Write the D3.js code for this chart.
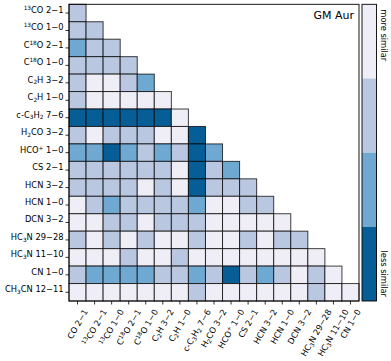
<!DOCTYPE html>
<html>
<head>
<meta charset="utf-8">
<script src="https://cdn.jsdelivr.net/npm/d3@7"></script>
<style>
  body { margin: 0; background: #fff; }
  text { font-family: "DejaVu Sans", sans-serif; fill: #000; }
</style>
</head>
<body>
<div id="chart"></div>
<script>
// labels use ^{..} for superscript and _{..} for subscript
var rowLabels = ["^{13}CO 2−1", "^{13}CO 1−0", "C^{18}O 2−1", "C^{18}O 1−0", "C_{2}H 3−2", "C_{2}H 1−0",
    "c-C_{3}H_{2} 7−6", "H_{2}CO 3−2", "HCO^{+} 1−0", "CS 2−1", "HCN 3−2", "HCN 1−0", "DCN 3−2",
    "HC_{3}N 29−28", "HC_{3}N 11−10", "CN 1−0", "CH_{3}CN 12−11"];
var colLabels = ["CO 2−1", "^{13}CO 2−1", "^{13}CO 1−0", "C^{18}O 2−1", "C^{18}O 1−0", "C_{2}H 3−2",
    "C_{2}H 1−0", "c-C_{3}H_{2} 7−6", "H_{2}CO 3−2", "HCO^{+} 1−0", "CS 2−1", "HCN 3−2", "HCN 1−0",
    "DCN 3−2", "HC_{3}N 29−28", "HC_{3}N 11−10", "CN 1−0"];

// similarity class per cell, 0 = more similar ... 3 = less similar
var levels = [
    [1],
    [1,1],
    [2,1,1],
    [1,1,1,1],
    [1,0,0,1,2],
    [1,0,0,0,0,0],
    [3,3,3,3,3,3,0],
    [1,0,1,1,1,0,0,3],
    [2,2,3,2,1,2,1,3,2],
    [1,1,1,1,1,1,0,3,1,2],
    [1,1,1,1,0,1,0,3,1,1,1],
    [0,1,2,1,1,1,1,2,0,0,1,1],
    [0,0,1,1,0,1,1,1,0,0,0,0,0],
    [1,0,1,0,1,0,0,1,0,0,1,0,1,1],
    [0,0,0,1,0,0,1,0,0,0,0,0,0,0,0],
    [1,2,2,2,2,1,1,2,1,3,1,2,1,0,1,0],
    [0,0,0,0,0,0,0,1,0,0,0,0,0,0,1,0,0]
];

var classes = [0, 1, 2, 3];
var classColors = ["#efedf5", "#b9c7e1", "#6fa8d1", "#075e96"];
var cbarTop = "more similar", cbarBottom = "less similar";
var title = "GM Aur";

var margin = {top: 4.3, left: 69};
var width = 290, height = 296.7;
var fs = 8.3;

var svg = d3.select('#chart').append('svg')
    .attr('width', 391)
    .attr('height', 361);

var g = svg.append('g')
    .attr('transform', 'translate(' + margin.left + ',' + margin.top + ')');

var x = d3.scaleBand().domain(colLabels).range([0, width]);
var y = d3.scaleBand().domain(rowLabels).range([0, height]);
var color = d3.scaleOrdinal().domain(classes).range(classColors);

// flatten for the join
var cells = [];
levels.forEach(function(row, i){
    row.forEach(function(v, j){
        cells.push({row: rowLabels[i], col: colLabels[j], v: v});
    });
});

g.selectAll('.cell')
    .data(cells)
    .enter()
    .append('rect')
        .attr('class', 'cell')
        .attr('x', d => x(d.col))
        .attr('y', d => y(d.row))
        .attr('width', x.bandwidth())
        .attr('height', y.bandwidth())
        .style('fill', d => color(d.v))
        .style('stroke', '#000')
        .style('stroke-opacity', 0.75)
        .style('stroke-width', 1);

// frame
g.append('rect')
    .attr('width', width).attr('height', height)
    .style('fill', 'none').style('stroke', '#000').style('stroke-width', 0.9);

function richText(sel){
    sel.each(function(s){
        var t = d3.select(this);
        t.text(null);
        var parts = s.split(/(\^\{[^}]*\}|_\{[^}]*\})/).filter(p => p.length);
        var shift = 0;
        parts.forEach(function(p){
            var sup = p[0] === '^', sub = p[0] === '_';
            var txt = (sup || sub) ? p.slice(2, -1) : p;
            var target = sup ? -3 : (sub ? 1.6 : 0);
            t.append('tspan')
                .attr('dy', target - shift)
                .style('font-size', (sup || sub) ? (fs * 0.7) + 'px' : fs + 'px')
                .text(txt);
            shift = target;
        });
    });
}

// y axis
var yAxis = g.append('g')
    .call(d3.axisLeft(y).tickSize(3.5).tickPadding(2).tickSizeOuter(0));
yAxis.select('.domain').remove();
yAxis.selectAll('line').style('stroke', '#000').style('stroke-width', 0.8);
yAxis.selectAll('text')
    .attr('font-family', null).attr('font-size', null)
    .style('font-size', fs + 'px')
    .call(richText);

// x axis, labels rotated 60deg and centred under the tick
var xAxis = g.append('g')
    .attr('transform', 'translate(0,' + height + ')')
    .call(d3.axisBottom(x).tickSize(3.5).tickSizeOuter(0));
xAxis.select('.domain').remove();
xAxis.selectAll('line').style('stroke', '#000').style('stroke-width', 0.8);
xAxis.selectAll('text')
    .attr('font-family', null).attr('font-size', null)
    .style('font-size', fs + 'px')
    .attr('y', 0).attr('dy', null)
    .style('text-anchor', 'middle')
    .call(richText)
    .each(function(){
        var b = this.getBBox();
        var a = Math.PI / 3;
        var half = (b.width * Math.sin(a) + b.height * Math.cos(a)) / 2;
        var cy = b.y + b.height / 2;
        d3.select(this).attr('transform',
            'translate(0,' + (6.5 + half) + ') rotate(-60) translate(0,' + (-cy) + ')');
    });

// title
g.append('text')
    .attr('x', width - 5)
    .attr('y', 15)
    .style('text-anchor', 'end')
    .style('font-size', '11px')
    .text(title);

// colorbar
var cb = svg.append('g')
    .attr('transform', 'translate(362,' + margin.top + ')');
var cbY = d3.scaleBand().domain(classes).range([0, height]);
cb.selectAll('rect.seg')
    .data(classes)
    .enter()
    .append('rect')
        .attr('class', 'seg')
        .attr('x', 0)
        .attr('y', d => cbY(d))
        .attr('width', 14.5)
        .attr('height', cbY.bandwidth())
        .style('fill', d => color(d));
cb.append('rect')
    .attr('width', 14.5).attr('height', height)
    .style('fill', 'none').style('stroke', '#000').style('stroke-width', 0.9);

cb.append('text')
    .attr('transform', 'translate(18.5,5) rotate(90)')
    .style('font-size', fs + 'px')
    .style('text-anchor', 'start')
    .text(cbarTop);
cb.append('text')
    .attr('transform', 'translate(18.5,' + (height - 4) + ') rotate(90)')
    .style('font-size', fs + 'px')
    .style('text-anchor', 'end')
    .text(cbarBottom);
</script>
</body>
</html>
